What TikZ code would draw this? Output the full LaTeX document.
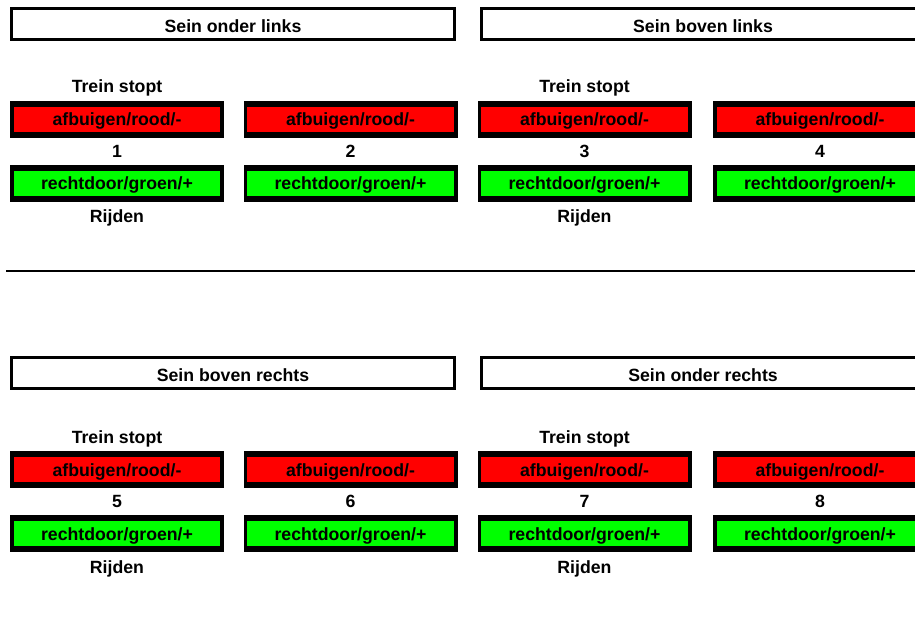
\documentclass[tikz,border=0pt]{standalone}
\usepackage{fontspec}
\setmainfont{Liberation Sans}
\begin{document}
\begin{tikzpicture}[x=1pt,y=-1pt,
  every node/.style={font=\fontsize{17.7}{20}\selectfont\bfseries, inner sep=0pt, outer sep=0pt},
  header/.style={draw=black, line width=2.7pt, fill=white, minimum width=443.3pt, minimum height=31pt, text height=16.2pt, text depth=0pt},
  sigbox/.style={fill=black, minimum width=214pt, minimum height=37pt, text height=13pt, text depth=0pt,
    path picture={\fill[#1] ([xshift=3.7pt,yshift=5.6pt]path picture bounding box.south west) rectangle ([xshift=-3.7pt,yshift=-5.6pt]path picture bounding box.north east);}},
  redbox/.style={sigbox=red},
  greenbox/.style={sigbox=green},
  lbl/.style={anchor=base},
  sep/.style={line width=2pt}
]
\useasboundingbox (0,0) rectangle (915,617);
\clip (0,0) rectangle (915,617);

% headers
\node[header] (h1) at (233,24.2) {Sein onder links};
\node[header] (h2) at (703,24.2) {Sein boven links};
\node[header] (h3) at (233,373.2) {Sein boven rechts};
\node[header] (h4) at (703,373.2) {Sein onder rechts};

% top half signals
\foreach \c/\x in {1/117, 2/350.5, 3/584.5, 4/820} {
  \node[redbox] (rt\c) at (\x,119.5) {afbuigen/rood/-};
  \node[greenbox] (gt\c) at (\x,183.5) {rechtdoor/groen/+};
  \node[lbl] (nt\c) at (\x,157.7) {\c};
}
% bottom half signals
\foreach \c/\x/\n in {1/117/5, 2/350.5/6, 3/584.5/7, 4/820/8} {
  \node[redbox] (rb\c) at (\x,469.5) {afbuigen/rood/-};
  \node[greenbox] (gb\c) at (\x,533.5) {rechtdoor/groen/+};
  \node[lbl] (nb\c) at (\x,507.7) {\n};
}

% labels
\node[lbl] (ts1) at (117,93) {Trein stopt};
\node[lbl] (ts3) at (584.5,93) {Trein stopt};
\node[lbl] (rj1) at (117,223) {Rijden};
\node[lbl] (rj3) at (584.5,223) {Rijden};
\node[lbl] (ts5) at (117,443) {Trein stopt};
\node[lbl] (ts7) at (584.5,443) {Trein stopt};
\node[lbl] (rj5) at (117,573) {Rijden};
\node[lbl] (rj7) at (584.5,573) {Rijden};

% separator line
\coordinate (l1) at (6,271);
\coordinate (l2) at (915,271);
\draw[sep] (l1) -- (l2);
\end{tikzpicture}
\end{document}
